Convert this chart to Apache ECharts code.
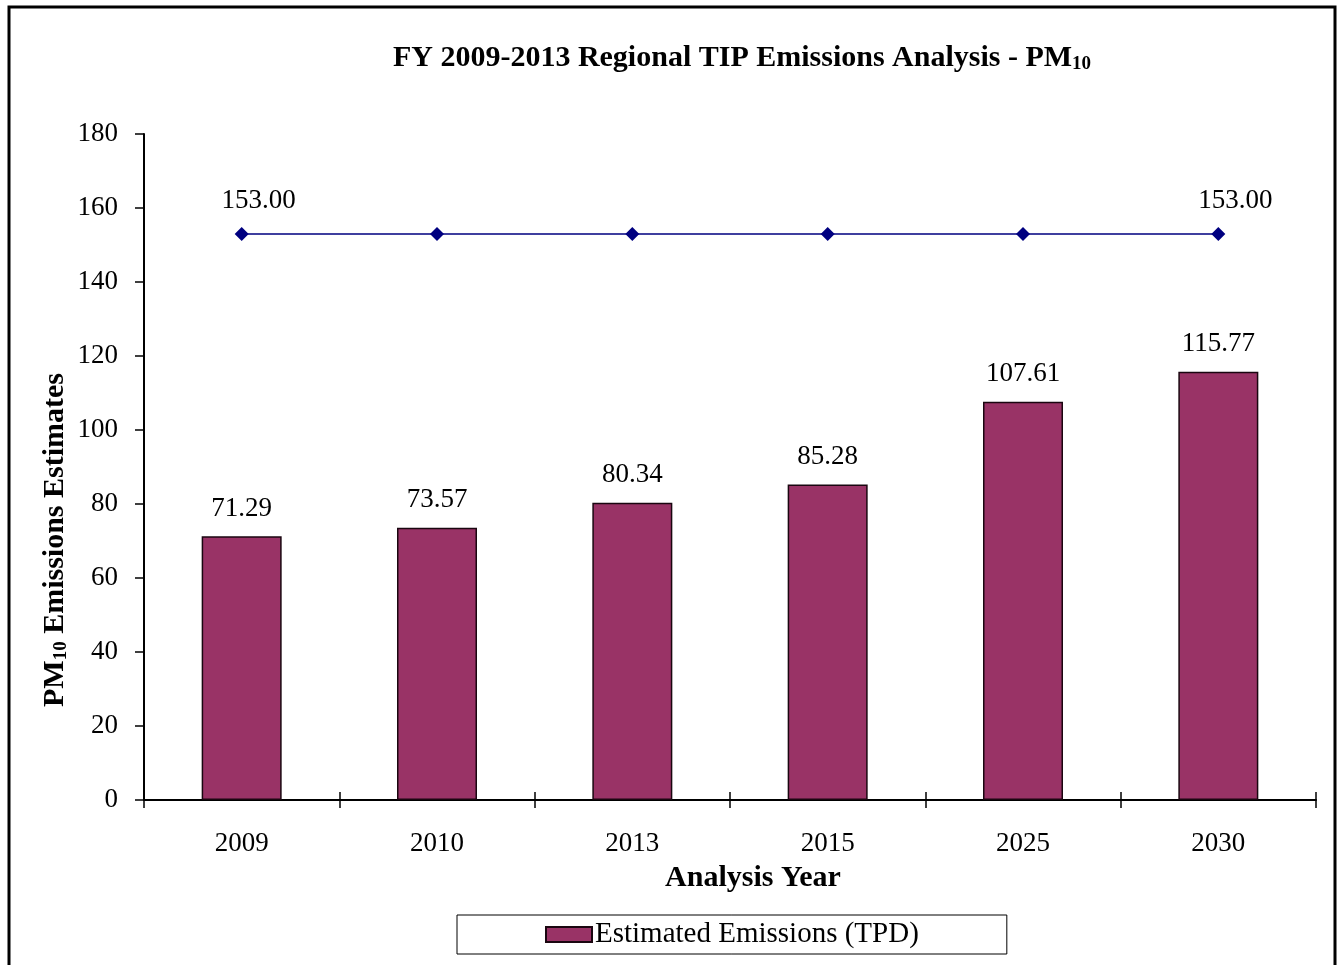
<!DOCTYPE html>
<html>
<head>
<meta charset="utf-8">
<script src="https://cdn.jsdelivr.net/npm/echarts@6/dist/echarts.min.js"></script>
<style>
  html, body { margin: 0; padding: 0; background: #fff; }
  #chart { width: 1338px; height: 965px; }
</style>
</head>
<body>
<div id="chart"></div>
<script>
var years = ['2009', '2010', '2013', '2015', '2025', '2030'];
var emissions = [71.29, 73.57, 80.34, 85.28, 107.61, 115.77];
var budget = [153.00, 153.00, 153.00, 153.00, 153.00, 153.00];

var serif = '"Liberation Serif", "DejaVu Serif", serif';

var chart = echarts.init(document.getElementById('chart'));
chart.setOption({
    animation: false,
    backgroundColor: '#fff',
    textStyle: { fontFamily: serif, color: '#000' },
    title: {
        text: '{t|FY 2009-2013 Regional TIP Emissions Analysis - PM}{s|10}',
        left: 737,
        top: 38,
        textAlign: 'center',
        textStyle: {
            rich: {
                t: { fontFamily: serif, fontWeight: 'bold', fontSize: 30, color: '#000' },
                s: { fontFamily: serif, fontWeight: 'bold', fontSize: 19, color: '#000', verticalAlign: 'bottom', padding: [12, 0, 0, 0] }
            }
        }
    },
    grid: {
        left: 144,
        right: 22,
        top: 134,
        bottom: 165
    },
    legend: {
        data: ['Estimated Emissions (TPD)'],
        left: 457,
        top: 915,
        padding: [5, 88, 5, 88],
        borderColor: '#000',
        borderWidth: 1,
        itemWidth: 46,
        itemHeight: 15,
        itemGap: 2,
        icon: 'rect',
        textStyle: { fontFamily: serif, fontSize: 29, color: '#000', padding: [0, 0, 0, -2] }
    },
    xAxis: [
        {
            type: 'category',
            data: years,
            axisLine: { lineStyle: { color: '#000', width: 2 } },
            axisTick: { show: true, interval: 0, length: 8, lineStyle: { color: '#000', width: 1.5 } },
            axisLabel: { margin: 30, fontFamily: serif, fontSize: 27, color: '#000' }
        },
        {
            type: 'category',
            data: years,
            position: 'bottom',
            axisLine: { show: false },
            axisTick: { show: true, interval: 0, inside: true, length: 8, lineStyle: { color: '#000', width: 1.5 } },
            axisLabel: { show: false }
        }
    ],
    yAxis: {
        type: 'value',
        min: 0,
        max: 180,
        interval: 20,
        axisLine: { show: true, lineStyle: { color: '#000', width: 2 } },
        axisTick: { show: true, length: 9, lineStyle: { color: '#000', width: 1.5 } },
        axisLabel: { margin: 26, fontFamily: serif, fontSize: 27, color: '#000' },
        splitLine: { show: false }
    },
    series: [
        {
            name: 'Estimated Emissions (TPD)',
            type: 'bar',
            data: emissions,
            barWidth: 80,
            itemStyle: { color: '#993366', borderColor: '#1a0610', borderWidth: 1.5 },
            label: {
                show: true,
                position: 'top',
                distance: 14,
                formatter: function (p) { return p.value.toFixed(2); },
                fontFamily: serif,
                fontSize: 27,
                color: '#000'
            }
        },
        {
            name: 'Budget',
            type: 'line',
            data: budget,
            symbol: 'diamond',
            symbolSize: 14,
            lineStyle: { color: '#000080', width: 1.5 },
            itemStyle: { color: '#000080' },
            label: {
                show: true,
                position: 'top',
                distance: 12,
                offset: [17, 0],
                fontFamily: serif,
                fontSize: 27,
                color: '#000',
                formatter: function (p) {
                    return (p.dataIndex === 0 || p.dataIndex === budget.length - 1) ? p.value.toFixed(2) : '';
                }
            }
        }
    ],
    graphic: [
        {
            type: 'rect',
            shape: { x: 9, y: 7, width: 1326, height: 980 },
            style: { fill: 'none', stroke: '#000', lineWidth: 3 },
            silent: true
        },
        {
            type: 'text',
            x: 753,
            y: 878,
            style: {
                text: 'Analysis Year',
                font: 'bold 30px ' + serif,
                fill: '#000',
                align: 'center',
                verticalAlign: 'middle'
            },
            silent: true
        },
        {
            type: 'text',
            x: 55,
            y: 540,
            rotation: Math.PI / 2,
            style: {
                text: '{t|PM}{s|10}{t| Emissions Estimates}',
                align: 'center',
                verticalAlign: 'middle',
                rich: {
                    t: { fontFamily: serif, fontWeight: 'bold', fontSize: 30, fill: '#000' },
                    s: { fontFamily: serif, fontWeight: 'bold', fontSize: 19, fill: '#000', verticalAlign: 'bottom', padding: [12, 0, 0, 0] }
                }
            },
            silent: true
        }
    ]
});
</script>
</body>
</html>
